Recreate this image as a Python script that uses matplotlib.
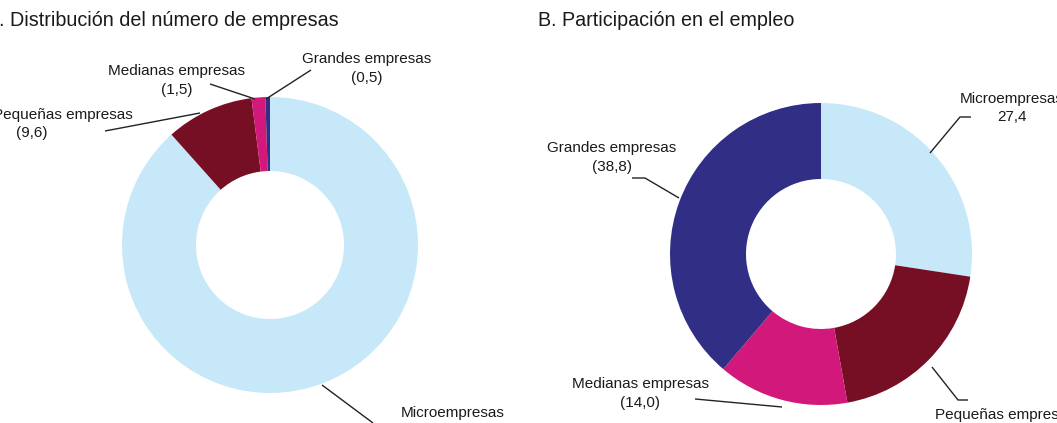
import matplotlib
matplotlib.use("Agg")
import matplotlib.pyplot as plt

plt.rcParams['font.family'] = ['Liberation Sans', 'DejaVu Sans']

# ---- data ----
categories = ["Microempresas", "Pequeñas empresas", "Medianas empresas", "Grandes empresas"]
empresas_share = [88.4, 9.6, 1.5, 0.5]
empleo_share = [27.4, 19.8, 14.0, 38.8]
colors = ["#C7E8F8", "#760F23", "#D2187A", "#302F85"]
title_a = "A. Distribución del número de empresas"
title_b = "B. Participación en el empleo"

W, H = 1057, 423
fig = plt.figure(figsize=(W / 100, H / 100), dpi=100)
ax = fig.add_axes([0, 0, 1, 1])

def Y(yp):
    return H - yp

# donuts
ax.pie(empresas_share, colors=colors, startangle=90, counterclock=False,
       center=(270, Y(245)), radius=148,
       wedgeprops=dict(width=74, linewidth=0), frame=True)
ax.pie(empleo_share, colors=colors, startangle=90, counterclock=False,
       center=(821, Y(254)), radius=151,
       wedgeprops=dict(width=76, linewidth=0), frame=True)
ax.set_xlim(0, W)
ax.set_ylim(0, H)
ax.set_aspect('equal')
ax.axis('off')

def fmt(v):
    return f"{v:.1f}".replace(".", ",")

fs = 11
tc = "#1a1a1a"
lc = "#222222"

# titles
ax.text(-14, Y(20), title_a, fontsize=14.2, color=tc, ha='left', va='center')
ax.text(538, Y(20), title_b, fontsize=14.2, color=tc, ha='left', va='center')

def label(x, y1, name, value, paren=True, ha='center', dy=19):
    ax.text(x, Y(y1), name, fontsize=fs, color=tc, ha=ha, va='center')
    val = f"({fmt(value)})" if paren else fmt(value)
    ax.text(x, Y(y1 + dy), val, fontsize=fs, color=tc, ha=ha, va='center')

def leader(pts):
    xs = [p[0] for p in pts]
    ys = [Y(p[1]) for p in pts]
    ax.plot(xs, ys, color=lc, lw=1.0, solid_capstyle='butt')

# ---- Panel A labels ----
label(367, 59, categories[3], empresas_share[3])
leader([(311, 70), (266, 99)])
label(177, 71, categories[2], empresas_share[2])
leader([(210, 84), (255, 99)])
ax.text(133, Y(115), categories[1], fontsize=fs, color=tc, ha='right', va='center')
ax.text(32, Y(133), f"({fmt(empresas_share[1])})", fontsize=fs, color=tc, ha='center', va='center')
leader([(105, 131), (200, 113)])
label(453, 413, categories[0], empresas_share[0])
leader([(322, 385), (373, 423)])

# ---- Panel B labels ----
label(1012, 99, categories[0], empleo_share[0], paren=False, dy=18)
leader([(971, 117), (960, 117), (930, 153)])
label(1005, 415, categories[1], empleo_share[1])
leader([(968, 400), (958, 400), (932, 367)])
label(640, 384, categories[2], empleo_share[2])
leader([(695, 399), (782, 407)])
label(612, 148, categories[3], empleo_share[3])
leader([(632, 178), (645, 178), (679, 198)])

fig.savefig("out.png", dpi=100)
